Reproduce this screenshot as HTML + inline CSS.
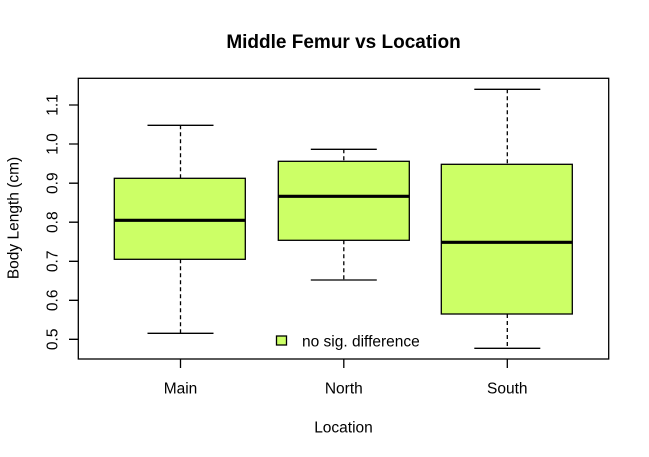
<!DOCTYPE html>
<html><head><style>body{margin:0;background:#fff}svg{display:block}</style></head><body>
<svg width="649" height="457" xmlns="http://www.w3.org/2000/svg" font-family="Liberation Sans, Arial, sans-serif">
<rect width="649" height="457" fill="#fff"/>
<text x="343.5" y="48" font-size="19" font-weight="bold" text-anchor="middle">Middle Femur vs Location</text>
<g stroke="#000" stroke-width="1.3" fill="none">
<rect x="78.3" y="78.3" width="530.4" height="280.7"/>
<path d="M69 105H78.3M69 144H78.3M69 183.2H78.3M69 222.2H78.3M69 261.3H78.3M69 300.3H78.3M69 339.3H78.3"/>
<path d="M180.5 359V368M343.8 359V368M507.3 359V368"/>
<path stroke-dasharray="4,3" d="M180.5 125.3V178.3M180.5 259.3V333.3M343.8 149.3V161.3M343.8 240.3V280M507.3 89.3V164.3M507.3 314V348.3"/>
<path d="M147.5 125.3H213.5M147.5 333.3H213.5M310.8 149.3H376.8M310.8 280H376.8M474.3 89.3H540.3M474.3 348.3H540.3"/>
</g>
<g stroke="#000" stroke-width="1.3" fill="#ccff66">
<rect x="114.3" y="178.3" width="131" height="81"/>
<rect x="278.3" y="161.3" width="131" height="79"/>
<rect x="441.3" y="164.3" width="131" height="149.7"/>
<rect x="276.5" y="336" width="10" height="9"/>
</g>
<g stroke="#000" stroke-width="3.2">
<path d="M114.3 220.3H245.3M278.3 196.3H409.3M441.3 242.3H572.3"/>
</g>
<text x="302" y="346.5" font-size="15.5">no sig. difference</text>
<g font-size="15.5" text-anchor="middle">
<text x="180.5" y="393.5">Main</text>
<text x="343.8" y="393.5">North</text>
<text x="507.3" y="393.5">South</text>
<text x="343.5" y="432.5">Location</text>
</g>
<g font-size="15.5" text-anchor="middle">
<text transform="translate(57.5,105) rotate(-90)">1.1</text>
<text transform="translate(57.5,144) rotate(-90)">1.0</text>
<text transform="translate(57.5,183.2) rotate(-90)">0.9</text>
<text transform="translate(57.5,222.2) rotate(-90)">0.8</text>
<text transform="translate(57.5,261.3) rotate(-90)">0.7</text>
<text transform="translate(57.5,300.3) rotate(-90)">0.6</text>
<text transform="translate(57.5,339.3) rotate(-90)">0.5</text>
<text transform="translate(18.5,218) rotate(-90)">Body Length (cm)</text>
</g>
</svg>
</body></html>
